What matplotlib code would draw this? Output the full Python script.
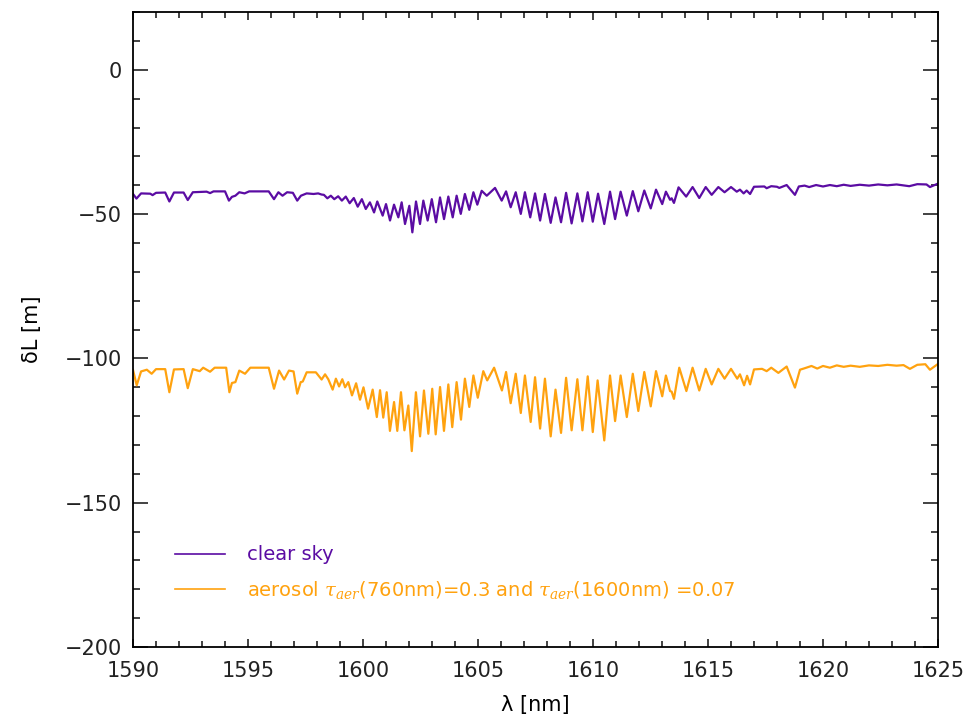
import matplotlib
matplotlib.use("Agg")
import matplotlib.pyplot as plt
from matplotlib.ticker import MultipleLocator

# vertices (wavelength in nm, delta L in m)
clear_wl = [
    1590.0, 1590.15, 1590.35, 1590.75, 1590.85, 1591.0, 1591.4, 1591.58, 1591.78,
    1592.2, 1592.38, 1592.6, 1593.2, 1593.35, 1593.5, 1594.0, 1594.17, 1594.3,
    1594.45, 1594.62, 1594.85, 1595.05, 1595.9, 1596.13, 1596.32, 1596.5, 1596.7,
    1596.95, 1597.14, 1597.3, 1597.55, 1597.85, 1598.05, 1598.2, 1598.3,
    1598.45, 1598.6, 1598.75, 1598.92, 1599.08, 1599.25, 1599.42, 1599.6, 1599.77,
    1599.95, 1600.12, 1600.3, 1600.48, 1600.62, 1600.855, 1601.0, 1601.174, 1601.348,
    1601.536, 1601.68, 1601.826, 1602.014, 1602.145, 1602.304, 1602.478, 1602.623,
    1602.81, 1602.99, 1603.174, 1603.348, 1603.522, 1603.71, 1603.9, 1604.07, 1604.25,
    1604.43, 1604.62, 1604.8, 1604.97, 1605.16, 1605.38, 1605.74, 1606.03, 1606.22,
    1606.42, 1606.64, 1606.86, 1607.04, 1607.27, 1607.48, 1607.7, 1607.91, 1608.16,
    1608.37, 1608.61, 1608.83, 1609.07, 1609.32, 1609.54, 1609.77, 1609.99, 1610.22,
    1610.49, 1610.74, 1610.96, 1611.2, 1611.47, 1611.73, 1611.97, 1612.23, 1612.51,
    1612.74, 1613.01, 1613.17, 1613.35, 1613.42, 1613.52, 1613.72, 1614.05, 1614.33,
    1614.62, 1614.9, 1615.16, 1615.45, 1615.72, 1616.0, 1616.25, 1616.39, 1616.55,
    1616.68, 1616.83, 1617.0, 1617.45, 1617.55, 1617.75, 1618.0, 1618.1, 1618.42,
    1618.78, 1618.95, 1619.2, 1619.4, 1619.7, 1620.0, 1620.3, 1620.6, 1620.9,
    1621.2, 1621.6, 1622.0, 1622.4, 1622.8, 1623.2, 1623.75, 1624.1, 1624.5,
    1624.65, 1625.0,
]
clear_dl = [
    -43.0, -44.6, -42.8, -42.9, -43.4, -42.6, -42.5, -45.6, -42.5,
    -42.5, -45.1, -42.4, -42.2, -42.7, -42.1, -42.1, -45.3, -44.0,
    -43.6, -42.4, -42.8, -42.1, -42.1, -44.8, -42.4, -43.6, -42.4,
    -42.6, -45.3, -43.6, -42.8, -43.0, -42.8, -43.2, -43.3,
    -44.5, -43.6, -44.8, -43.8, -45.3, -43.9, -46.2, -44.4, -47.4,
    -44.8, -48.2, -45.9, -49.4, -45.6, -50.5, -46.5, -52.2, -46.7,
    -51.1, -45.9, -53.4, -47.1, -56.3, -45.6, -53.4, -45.3,
    -52.2, -44.8, -52.8, -44.2, -51.7, -43.9, -51.1, -43.6, -49.9,
    -43.0, -48.5, -42.4, -46.7, -41.9, -43.6, -40.9, -45.3, -42.1,
    -47.6, -42.4, -49.9, -42.4, -51.1, -42.8, -52.2, -43.0, -53.0,
    -44.2, -52.8, -42.6, -53.2, -42.8, -52.5, -42.4, -52.6, -42.9,
    -53.4, -42.2, -51.7, -42.2, -50.5, -42.0, -49.0, -41.8, -48.0,
    -41.5, -46.5, -42.2, -45.0, -44.5, -46.1, -40.7, -43.9, -40.6,
    -44.4, -40.6, -43.3, -40.6, -42.4, -40.6, -42.2, -41.5, -42.8,
    -41.8, -43.0, -40.5, -40.4, -41.0, -40.3, -40.5, -40.9, -39.9,
    -43.3, -40.4, -40.1, -40.6, -39.9, -40.4, -39.9, -40.3, -39.8,
    -40.2, -39.8, -40.1, -39.7, -40.0, -39.7, -40.3, -39.6, -39.7,
    -40.6, -39.4,
]

aer_wl = [
    1590.0, 1590.16, 1590.35, 1590.6, 1590.81, 1591.0, 1591.4, 1591.58, 1591.78,
    1592.2, 1592.38, 1592.6, 1592.9, 1593.05, 1593.35, 1593.55, 1594.05, 1594.19,
    1594.3, 1594.45, 1594.62, 1594.87, 1595.1, 1595.9, 1596.13, 1596.35, 1596.57,
    1596.78, 1596.98, 1597.14, 1597.29, 1597.38, 1597.55, 1597.95, 1598.2, 1598.35,
    1598.49, 1598.68, 1598.82, 1598.96, 1599.1, 1599.22, 1599.36, 1599.52, 1599.7,
    1599.87, 1600.02, 1600.22, 1600.42, 1600.6, 1600.74, 1600.88, 1601.03, 1601.17,
    1601.35, 1601.49, 1601.65, 1601.8, 1601.97, 1602.12, 1602.3, 1602.48, 1602.65,
    1602.84, 1603.01, 1603.16, 1603.35, 1603.52, 1603.71, 1603.88, 1604.07, 1604.26,
    1604.43, 1604.62, 1604.8, 1604.99, 1605.23, 1605.4, 1605.7, 1606.04, 1606.22,
    1606.42, 1606.64, 1606.86, 1607.04, 1607.29, 1607.48, 1607.7, 1607.91, 1608.16,
    1608.37, 1608.61, 1608.83, 1609.07, 1609.32, 1609.54, 1609.77, 1609.99, 1610.2,
    1610.49, 1610.74, 1610.96, 1611.2, 1611.47, 1611.73, 1611.97, 1612.23, 1612.51,
    1612.74, 1613.01, 1613.17, 1613.35, 1613.42, 1613.52, 1613.75, 1614.06, 1614.33,
    1614.62, 1614.9, 1615.16, 1615.45, 1615.72, 1616.0, 1616.27, 1616.39, 1616.57,
    1616.7, 1616.83, 1617.0, 1617.35, 1617.55, 1617.75, 1618.06, 1618.42, 1618.78,
    1619.0, 1619.2, 1619.5, 1619.75, 1620.0, 1620.3, 1620.6, 1620.9, 1621.2,
    1621.6, 1622.0, 1622.4, 1622.8, 1623.2, 1623.5, 1623.78, 1624.1, 1624.45,
    1624.65, 1625.0,
]
aer_dl = [
    -104.0, -109.3, -104.5, -103.9, -105.3, -103.7, -103.7, -111.7, -103.8,
    -103.7, -110.3, -103.7, -104.4, -103.2, -104.6, -103.2, -103.2, -111.7,
    -108.5, -108.2, -104.2, -105.3, -103.2, -103.2, -110.5, -104.2, -107.3,
    -104.2, -104.5, -112.2, -108.2, -108.0, -104.8, -104.8, -107.3, -105.5,
    -107.2, -110.8, -107.0, -109.7, -107.2, -110.0, -108.2, -112.8, -108.6,
    -114.3, -110.0, -117.4, -110.8, -120.3, -111.0, -120.5, -111.7, -125.1,
    -115.1, -125.1, -111.7, -124.9, -116.3, -132.1, -111.7, -127.0, -111.1,
    -126.1, -110.5, -126.3, -109.9, -125.1, -109.0, -123.8, -108.2, -121.2,
    -107.0, -116.8, -105.9, -113.6, -104.4, -107.6, -103.2, -111.1, -104.7,
    -115.5, -105.3, -118.9, -105.9, -122.0, -106.5, -124.3, -107.0, -127.0,
    -110.8, -125.8, -106.7, -124.9, -107.2, -124.9, -106.2, -125.5, -107.6,
    -128.4, -105.9, -121.7, -105.9, -120.3, -105.3, -118.2, -104.7, -116.6,
    -104.4, -113.1, -105.9, -111.3, -111.5, -114.0, -103.2, -111.3, -103.2,
    -111.1, -103.6, -109.0, -103.6, -107.0, -103.6, -107.0, -105.5, -109.3,
    -106.0, -109.0, -103.8, -103.6, -104.4, -103.2, -105.0, -102.8, -110.1,
    -103.9, -103.4, -102.6, -103.5, -102.6, -103.2, -102.4, -102.9, -102.5,
    -102.9, -102.4, -102.6, -102.2, -102.5, -102.3, -103.6, -102.2, -102.0,
    -103.9, -101.9,
]

labels = ["clear sky",
          r"aerosol $\tau_{aer}$(760nm)=0.3 and $\tau_{aer}$(1600nm) =0.07"]
colors = ["#5b0ca3", "#ffa20f"]

plt.rcParams["font.family"] = ["DejaVu Sans"]
plt.rcParams["mathtext.fontset"] = "dejavuserif"

fig = plt.figure(figsize=(9.71, 7.21), dpi=100)
ax = fig.add_axes([0.137, 0.1026, 0.829, 0.8805])

ax.plot(clear_wl, clear_dl, color=colors[0], lw=1.6, label=labels[0],
        solid_joinstyle="round")
ax.plot(aer_wl, aer_dl, color=colors[1], lw=1.6, label=labels[1],
        solid_joinstyle="round")

ax.set_xlim(1590, 1625)
ax.set_ylim(-200, 20)
ax.xaxis.set_major_locator(MultipleLocator(5))
ax.xaxis.set_minor_locator(MultipleLocator(1))
ax.yaxis.set_major_locator(MultipleLocator(50))
ax.yaxis.set_minor_locator(MultipleLocator(10))
ax.tick_params(which="both", direction="in", top=True, right=True, width=1.2,
               labelsize=15, colors="#222222")
ax.tick_params(axis="y", which="major", length=10.5, pad=8)
ax.tick_params(axis="y", which="minor", length=5)
ax.tick_params(axis="x", which="major", length=6, pad=10)
ax.tick_params(axis="x", which="minor", length=4.5)
for s in ax.spines.values():
    s.set_linewidth(1.3)

ax.set_xlabel("λ [nm]", fontsize=15, labelpad=10)
ax.set_ylabel("δL [m]", fontsize=15, labelpad=16)

leg = ax.legend(loc="lower left", bbox_to_anchor=(0.03, 0.045), frameon=False,
                fontsize=14, handlelength=2.6, handletextpad=1.1,
                labelspacing=0.75, labelcolor="linecolor")
for ln in leg.get_lines():
    ln.set_linewidth(1.2)

fig.savefig("out.png", dpi=100)
